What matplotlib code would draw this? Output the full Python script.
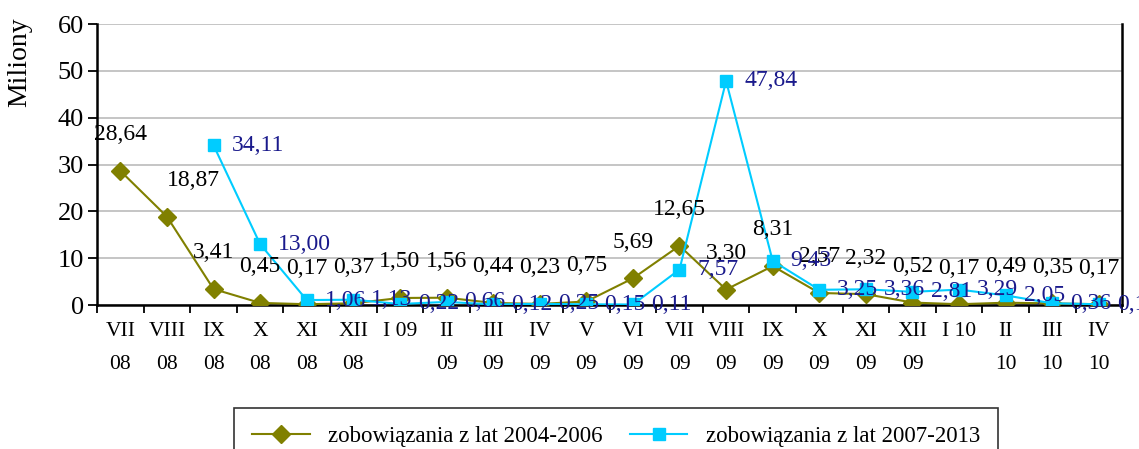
import matplotlib
matplotlib.use("Agg")
import matplotlib.pyplot as plt
from matplotlib.lines import Line2D
import numpy as np

plt.rcParams['font.family'] = ['Liberation Serif', 'DejaVu Serif']

months = ["VII\n08", "VIII\n08", "IX\n08", "X\n08", "XI\n08", "XII\n08", "I 09",
          "II\n09", "III\n09", "IV\n09", "V\n09", "VI\n09", "VII\n09", "VIII\n09",
          "IX\n09", "X\n09", "XI\n09", "XII\n09", "I 10", "II\n10", "III\n10", "IV\n10"]
s2004 = [28.64, 18.87, 3.41, 0.45, 0.17, 0.37, 1.50, 1.56, 0.44, 0.23, 0.75,
         5.69, 12.65, 3.30, 8.31, 2.57, 2.32, 0.52, 0.17, 0.49, 0.35, 0.17]
s2007 = [np.nan, np.nan, 34.11, 13.00, 1.06, 1.13, 0.22, 0.66, 0.12, 0.25, 0.15,
         0.11, 7.57, 47.84, 9.43, 3.25, 3.36, 2.81, 3.29, 2.05, 0.36, 0.16]
name2004 = "zobowiązania z lat 2004-2006"
name2007 = "zobowiązania z lat 2007-2013"

olive = "#808000"
cyan = "#00CCFF"
navy = "#1A1A8C"

def fmt(v):
    return f"{v:.2f}".replace(".", ",")

fig = plt.figure(figsize=(11.39, 4.49), dpi=100)
ax = fig.add_axes([0.0852, 0.3207, 0.9, 0.6258])

x = np.arange(len(months))
ax.plot(x, s2004, color=olive, lw=1.5, marker="D", ms=9, zorder=3)
ax.plot(x, s2007, color=cyan, lw=1.5, marker="s", ms=8.5, zorder=4)

for i, v in enumerate(s2004):
    off = (19, 26) if i == 1 else (0, 26)
    ax.annotate(fmt(v), (i, v), xytext=off, textcoords="offset points",
                ha="center", va="center", fontsize=17, color="black", zorder=5)
for i, v in enumerate(s2007):
    if np.isnan(v):
        continue
    ax.annotate(fmt(v), (i, v), xytext=(13, 0), textcoords="offset points",
                ha="left", va="center", fontsize=17, color=navy, zorder=6)

ax.set_xlim(-0.5, len(months) - 0.5)
ax.set_ylim(0, 60)
ax.set_yticks(range(0, 61, 10))
ax.yaxis.grid(True, color="#C0C0C0", lw=1.3)
ax.set_axisbelow(True)
ax.tick_params(axis="y", labelsize=19, length=6.5, width=1.3, pad=3,
               direction="out")

ax.set_xticks(x)
ax.set_xticklabels(months, fontsize=15.5, linespacing=2.0, va="top")
ax.tick_params(axis="x", which="major", length=0, pad=12)
ax.set_xticks(np.arange(-0.5, len(months)), minor=True)
ax.tick_params(axis="x", which="minor", length=6, width=1.3, direction="out")

for side in ["left", "bottom", "right"]:
    ax.spines[side].set_linewidth(1.8)
    ax.spines[side].set_color("black")
ax.spines["top"].set_visible(False)

fig.text(20 / 1139, 1 - 62 / 449, "Miliony", rotation=90, fontsize=20,
         ha="center", va="center")

handles = [Line2D([], [], color=olive, lw=1.5, marker="D", ms=9),
           Line2D([], [], color=cyan, lw=1.5, marker="s", ms=8.5)]
leg = fig.legend(handles, [name2004, name2007], loc="upper center",
                 bbox_to_anchor=(0.541, 1 - 408 / 449), ncol=2, fontsize=16.5,
                 frameon=True, fancybox=False, edgecolor="black",
                 handlelength=2.5, columnspacing=1.2, borderpad=0.8,
                 borderaxespad=0)
leg.get_frame().set_linewidth(1.2)

fig.savefig("out.png", dpi=100)
